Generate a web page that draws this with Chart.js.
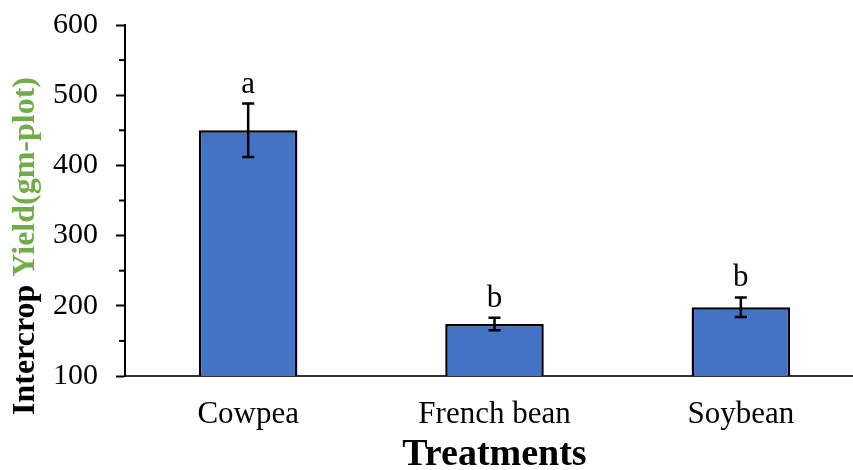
<!DOCTYPE html>
<html>
<head>
<meta charset="utf-8">
<script src="https://cdn.jsdelivr.net/npm/chart.js@4.4.1/dist/chart.umd.min.js"></script>
<style>
  html, body { margin: 0; padding: 0; background: #fff; overflow: hidden; }
  #wrap { width: 853px; height: 470px; overflow: hidden; }
</style>
</head>
<body>
<div id="wrap"><canvas id="yieldChart" width="864" height="470"></canvas></div>
<script>
const categories = ['Cowpea', 'French bean', 'Soybean'];
const yieldMeans = [450, 174, 198];
const yieldErrors = [38, 9, 14];
const groupLetters = ['a', 'b', 'b'];
const yTicks = [100, 200, 300, 400, 500, 600];
const yMinorTicks = [150, 250, 350, 450, 550];

const serif = "'Times New Roman', 'Liberation Serif', serif";

// error bars, significance letters, minor ticks and the two-colour y title
const extras = {
    id: 'extras',
    afterDatasetsDraw(chart) {
        const ctx = chart.ctx;
        const y = chart.scales.y;
        const bars = chart.getDatasetMeta(0).data;
        ctx.save();
        ctx.strokeStyle = '#000';
        ctx.lineWidth = 2.5;
        bars.forEach((bar, i) => {
            const top = y.getPixelForValue(yieldMeans[i] + yieldErrors[i]);
            const bot = y.getPixelForValue(yieldMeans[i] - yieldErrors[i]);
            ctx.beginPath();
            ctx.moveTo(bar.x, top); ctx.lineTo(bar.x, bot);
            ctx.moveTo(bar.x - 6, top); ctx.lineTo(bar.x + 6, top);
            ctx.moveTo(bar.x - 6, bot); ctx.lineTo(bar.x + 6, bot);
            ctx.stroke();
            ctx.fillStyle = '#000';
            ctx.font = '31px ' + serif;
            ctx.textAlign = 'center';
            ctx.textBaseline = 'alphabetic';
            ctx.fillText(groupLetters[i], bar.x, top - 11);
        });
        ctx.restore();
    },
    afterDraw(chart) {
        const ctx = chart.ctx;
        const y = chart.scales.y;
        const left = chart.chartArea.left;
        ctx.save();
        ctx.strokeStyle = '#000';
        ctx.lineWidth = 2;
        yMinorTicks.forEach(v => {
            const py = y.getPixelForValue(v);
            ctx.beginPath();
            ctx.moveTo(left - 6, py); ctx.lineTo(left, py);
            ctx.stroke();
        });

        ctx.translate(34, 246);
        ctx.rotate(-Math.PI / 2);
        ctx.font = 'bold 32px ' + serif;
        ctx.textBaseline = 'alphabetic';
        const p1 = 'Intercrop ';
        const p2 = 'Yield(gm-plot)';
        const w1 = ctx.measureText(p1).width;
        const w2 = ctx.measureText(p2).width;
        const x0 = -(w1 + w2) / 2;
        ctx.fillStyle = '#000';
        ctx.fillText(p1, x0, 0);
        ctx.fillStyle = '#70AD47';
        ctx.fillText(p2, x0 + w1, 0);
        ctx.restore();
    }
};

new Chart(document.getElementById('yieldChart'), {
    type: 'bar',
    data: {
        labels: categories,
        datasets: [{
            data: yieldMeans,
            backgroundColor: '#4472C4',
            borderColor: '#000',
            borderWidth: 2.5,
            categoryPercentage: 1,
            barPercentage: 0.4
        }]
    },
    options: {
        responsive: false,
        animation: false,
        layout: { padding: { top: 25, right: 0, left: 0, bottom: 0 } },
        plugins: {
            legend: { display: false },
            tooltip: { enabled: false }
        },
        scales: {
            x: {
                grid: { display: false, drawTicks: false },
                border: { color: '#333', width: 2 },
                ticks: { color: '#000', font: { family: serif, size: 31 }, padding: 20 },
                title: {
                    display: true,
                    text: 'Treatments',
                    color: '#000',
                    font: { family: serif, size: 38, weight: 'bold' },
                    padding: { top: 0, bottom: -8 }
                },
                afterFit(scale) {
                    scale.height = 94;
                    scale.paddingLeft = 0;
                    scale.paddingRight = 0;
                }
            },
            y: {
                min: 100,
                max: 600,
                afterBuildTicks(scale) { scale.ticks = yTicks.map(v => ({ value: v })); },
                grid: { drawOnChartArea: false, tickLength: 9, tickWidth: 2, tickColor: '#000' },
                border: { color: '#000', width: 2 },
                ticks: { color: '#000', font: { family: serif, size: 30 }, padding: 18 },
                afterFit(scale) {
                    scale.width = 125;
                    scale.paddingTop = 0;
                    scale.paddingBottom = 0;
                }
            }
        }
    },
    plugins: [extras]
});
</script>
</body>
</html>
